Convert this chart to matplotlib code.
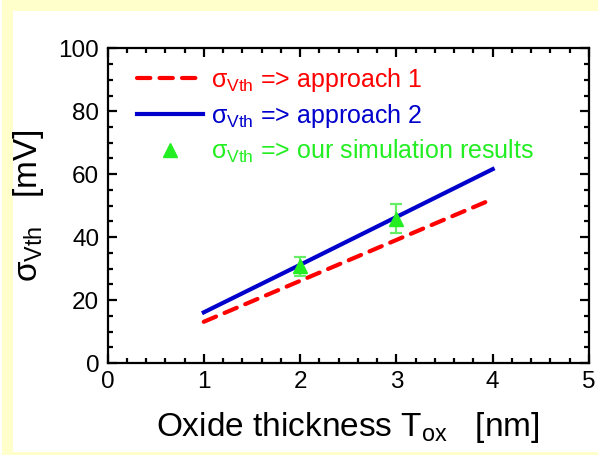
import matplotlib
matplotlib.use("Agg")
import matplotlib.pyplot as plt
from matplotlib.patches import Rectangle
from matplotlib.ticker import MultipleLocator

plt.rcParams["font.family"] = ["Liberation Sans", "DejaVu Sans"]
plt.rcParams["mathtext.fontset"] = "custom"
plt.rcParams["mathtext.rm"] = "Liberation Sans"
plt.rcParams["mathtext.it"] = "Liberation Sans"
plt.rcParams["mathtext.bf"] = "Liberation Sans:bold"

# Oxide thickness [nm] and threshold-voltage mismatch sigma [mV]
tox_model = [1, 2, 3, 4]
sigma_approach1 = [13.1, 26.1, 39.1, 52.1]
sigma_approach2 = [16.1, 31.2, 46.4, 61.6]

tox_sim = [2, 3]
sigma_sim = [30.7, 45.8]
sigma_sim_err = [3.1, 4.6]

x_ticks = [0, 1, 2, 3, 4, 5]
y_ticks = [0, 20, 40, 60, 80, 100]

labels = [r"$\sigma_{\mathrm{Vth}}$ => approach 1",
          r"$\sigma_{\mathrm{Vth}}$ => approach 2",
          r"$\sigma_{\mathrm{Vth}}$ => our simulation results"]

RED = "#FF0000"
BLUE = "#0000CC"
GREEN = "#22EE22"
ERR_GREEN = "#66EE66"
PALE = "#FFFFCC"

W, H = 598, 455
fig = plt.figure(figsize=(W / 100, H / 100), dpi=100, facecolor="white")

# pale yellow border around a white panel
fig.patches.append(Rectangle((2 / W, 0), 1, 1, transform=fig.transFigure,
                             facecolor=PALE, edgecolor="none", zorder=-2))
fig.patches.append(Rectangle((13 / W, 1 - 452 / H), 1, (452 - 11) / H,
                             transform=fig.transFigure, facecolor="white",
                             edgecolor="none", zorder=-1))

left, right, top, bottom = 107.5, 589, 48.3, 363
ax = fig.add_axes([left / W, 1 - bottom / H, (right - left) / W, (bottom - top) / H])
ax.set_facecolor("white")

l1, = ax.plot(tox_model, sigma_approach1, color=RED, lw=3.0,
              dashes=(3.2, 2.2), dash_capstyle="round", zorder=3)
l2, = ax.plot(tox_model, sigma_approach2, color=BLUE, lw=3.0, zorder=3)
ax.errorbar(tox_sim, sigma_sim, yerr=sigma_sim_err, fmt="none",
            ecolor=ERR_GREEN, elinewidth=1.6, capsize=4.5, capthick=1.6, zorder=4)
l3, = ax.plot(tox_sim, sigma_sim, linestyle="none", marker="^", markersize=10,
              color=GREEN, markeredgecolor=GREEN, zorder=5)

ax.set_xlim(0, 5)
ax.set_ylim(0, 100)
ax.set_xticks(x_ticks)
ax.set_yticks(y_ticks)
ax.xaxis.set_minor_locator(MultipleLocator(0.2))
ax.yaxis.set_minor_locator(MultipleLocator(5))
ax.tick_params(which="both", direction="in", top=True, right=True,
               width=1.6, color="black", labelsize=17.5)
ax.tick_params(which="major", length=6.8, pad=6)
ax.tick_params(which="minor", length=3.5)
for s in ax.spines.values():
    s.set_linewidth(1.6)

ax.set_xlabel(r"Oxide thickness T$_{\mathrm{ox}}$   [nm]", fontsize=24, labelpad=12)
ax.set_ylabel(r"$\sigma_{\mathrm{Vth}}$   [mV]", fontsize=24, labelpad=9)

leg = ax.legend([l1, l2, l3], labels, loc="upper left",
                bbox_to_anchor=(0.061, 0.945), frameon=False, fontsize=18,
                handlelength=2.65, handletextpad=0.32, labelspacing=0.32,
                borderpad=0, borderaxespad=0, numpoints=1)
for txt, col in zip(leg.get_texts(), [RED, BLUE, GREEN]):
    txt.set_color(col)

fig.savefig("out.png", dpi=100, facecolor=fig.get_facecolor())
